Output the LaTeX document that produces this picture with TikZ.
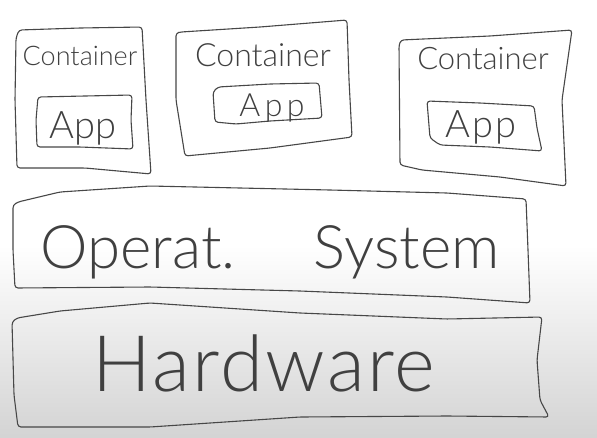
\documentclass[tikz,border=0pt]{standalone}
\usepackage{fontspec}
\newfontfamily\hand{Lato Light}
\usetikzlibrary{backgrounds}

\tikzset{
  pen/.style={draw=black!72, line width=1.1pt, line join=round, line cap=round, rounded corners=3pt},
  word/.style={inner sep=0pt, anchor=base, text=black!75, font=\hand\fontsize{#1}{#1}\selectfont},
}

\begin{document}
\begin{tikzpicture}[x=1pt,y=-1pt]
\useasboundingbox (0,0) rectangle (597,437);
\fill[white] (0,0) rectangle (597,437);
\shade[top color=white, bottom color=black!17] (0,245) rectangle (597,437);

% the three containers
\draw[pen] (19,30) -- (80,28) -- (142,27) -- (146,100) -- (151,174) -- (85,168) -- (17,168) -- (15,100) -- (16,38) -- cycle;
\draw[pen] (181,32) -- (260,27) -- (347,20) -- (349,80) -- (352,137) -- (270,148) -- (185,156) -- (176,100) -- (176,33) -- cycle;
\draw[pen] (401,40) -- (490,36) -- (572,30) -- (562,100) -- (566,186) -- (500,177) -- (422,170) -- (400,165) -- (399,45) -- cycle;

% apps inside
\draw[pen] (38,97) -- (85,96) -- (132,95) -- (131,120) -- (133,149) -- (80,147) -- (37,147) -- (36,120) -- cycle;
\draw[pen] (218,87) -- (270,84) -- (319,83) -- (322,118) -- (270,121) -- (236,124) -- (215,122) -- (213,92) -- cycle;
\draw[pen] (427,101) -- (480,103) -- (534,106) -- (537,128) -- (542,151) -- (490,147) -- (440,145) -- (430,138) -- cycle;

% os and hardware
\draw[pen] (18,202) -- (60,192) -- (150,186) -- (330,190) -- (447,193) -- (526,199) -- (528,250) -- (530,303) -- (447,297) -- (300,291) -- (150,287) -- (15,288) -- (13,250) -- (13,205) -- cycle;
\draw[pen] (17,318) -- (60,311) -- (150,303) -- (300,313) -- (447,319) -- (542,317) -- (537,360) -- (540,400) -- (549,417) -- (447,416) -- (300,417) -- (150,427) -- (18,427) -- (14,395) -- (12,322) -- cycle;

\node[word=27] (cont1) at (80,65) {Container};
\node[word=32] (cont2) at (263,66) {Container};
\node[word=31] (cont3) at (483,69) {Container};

\node[word=38] (app1) at (83,138) {App};
\node[word=32] (app2) at (272,116) {\addfontfeature{LetterSpace=14}App};
\node[word=38] (app3) at (481,137) {\addfontfeature{LetterSpace=6}App};

\node[word=60] (os) at (270,268) {Operat.\hspace{78pt}System};
\node[word=78] (hw) at (264,391) {\addfontfeature{LetterSpace=3}Hardware};
\end{tikzpicture}
\end{document}
